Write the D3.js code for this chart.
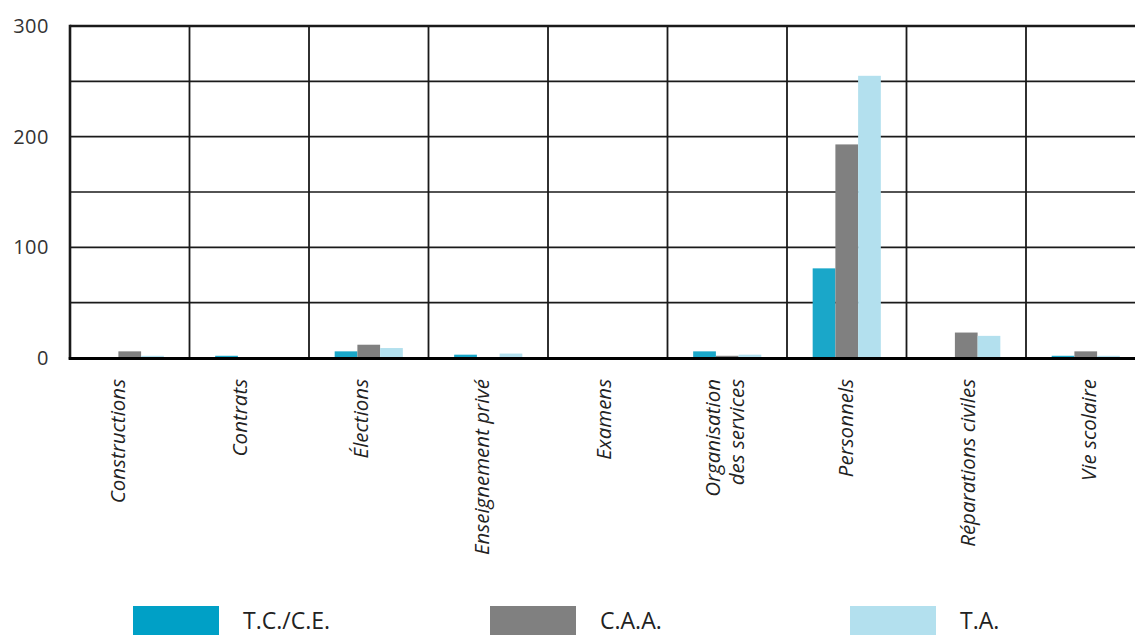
<!DOCTYPE html>
<html>
<head>
<meta charset="utf-8">
<script src="https://cdn.jsdelivr.net/npm/d3@7"></script>
<style>
  html, body { margin: 0; padding: 0; background: #fff; }
  svg { display: block; }
</style>
</head>
<body>
<svg id="chart" width="1135" height="635"></svg>
<script>
// Contentieux par domaine et par juridiction
const categories = ["Constructions", "Contrats", "Élections", "Enseignement privé", "Examens",
  "Organisation des services", "Personnels", "Réparations civiles", "Vie scolaire"];
const categoryLines = [["Constructions"], ["Contrats"], ["Élections"], ["Enseignement privé"], ["Examens"],
  ["Organisation", "des services"], ["Personnels"], ["Réparations civiles"], ["Vie scolaire"]];
const seriesNames = ["T.C./C.E.", "C.A.A.", "T.A."];
const tcce = [0, 2, 6, 3, 0, 6, 81, 0, 2];
const caa  = [6, 0, 12, 0, 0, 2, 193, 23, 6];
const ta   = [2, 0, 9, 4, 0, 3, 255, 20, 2];
const seriesColors = ["#1aa7c9", "#808080", "#b3e0ee"];
const yTicks = [0, 100, 200, 300];
const yGrid = [50, 100, 150, 200, 250];

const values = [tcce, caa, ta];
const svg = d3.select("#chart");

const plotLeft = 70, plotTop = 26, plotBottom = 358;
const step = 119.5;
const plotRight = plotLeft + step * categories.length;

const x0 = d3.scaleBand().domain(categories).range([plotLeft, plotRight]).paddingInner(0).paddingOuter(0);
const x1 = d3.scaleBand().domain(seriesNames).range([0, x0.bandwidth()]).paddingInner(0).paddingOuter(1.13);
const y = d3.scaleLinear().domain([0, 300]).range([plotBottom, plotTop]);
// label anchors sit on a slightly wider spread than the columns
const xl = d3.scalePoint().domain(categories).range([118, 1089]);

// horizontal grid
svg.append("g").selectAll("line").data(yGrid).join("line")
  .attr("x1", plotLeft).attr("x2", plotRight)
  .attr("y1", d => y(d)).attr("y2", d => y(d))
  .attr("stroke", "#1a1a1a").attr("stroke-width", 1.6);

// column separators
svg.append("g").selectAll("line").data(categories.slice(1)).join("line")
  .attr("x1", d => x0(d)).attr("x2", d => x0(d))
  .attr("y1", plotTop).attr("y2", plotBottom)
  .attr("stroke", "#1a1a1a").attr("stroke-width", 1.8);

// bars
const groups = svg.append("g").selectAll("g").data(categories).join("g")
  .attr("transform", d => `translate(${x0(d)},0)`);
groups.selectAll("rect")
  .data((c, i) => seriesNames.map((s, k) => ({ s, k, v: values[k][i] })))
  .join("rect")
  .attr("x", d => x1(d.s))
  .attr("width", x1.bandwidth())
  .attr("y", d => y(d.v))
  .attr("height", d => y(0) - y(d.v))
  .attr("fill", d => seriesColors[d.k]);

// frame: top, left, baseline
svg.append("line").attr("x1", plotLeft).attr("x2", plotRight).attr("y1", y(300)).attr("y2", y(300))
  .attr("stroke", "#1a1a1a").attr("stroke-width", 2.6);
svg.append("line").attr("x1", plotLeft).attr("x2", plotLeft).attr("y1", y(300) - 1.3).attr("y2", plotBottom + 1.5)
  .attr("stroke", "#1a1a1a").attr("stroke-width", 2.6);
svg.append("line").attr("x1", plotLeft - 1.3).attr("x2", plotRight).attr("y1", plotBottom + 0.5).attr("y2", plotBottom + 0.5)
  .attr("stroke", "#000").attr("stroke-width", 3);

// y tick labels
const yAxis = d3.axisLeft(y).tickValues(yTicks).tickSize(0).tickPadding(0);
const ya = svg.append("g").attr("transform", `translate(49,0)`).call(yAxis);
ya.select(".domain").remove();
ya.selectAll("text")
  .attr("font-family", "'Open Sans', sans-serif")
  .attr("font-size", 20)
  .attr("letter-spacing", 0.5)
  .attr("fill", "#333");

// category labels, rotated
const lab = svg.append("g").selectAll("text").data(categories).join("text")
  .attr("transform", d => `translate(${xl(d)},379) rotate(-90)`)
  .attr("text-anchor", "end")
  .attr("font-family", "'Open Sans', sans-serif")
  .attr("font-style", "italic")
  .attr("font-size", 20.5)
  .attr("fill", "#222");
lab.each(function (d, i) {
  const lines = categoryLines[i];
  const n = lines.length;
  d3.select(this).selectAll("tspan").data(lines).join("tspan")
    .attr("x", 0)
    .attr("y", (l, j) => (j - (n - 1) / 2) * 24)
    .attr("dy", "0.35em")
    .text(l => l);
});

// legend
const legendX = [133, 490, 850];
const lg = svg.append("g").selectAll("g").data(seriesNames).join("g")
  .attr("transform", (d, i) => `translate(${legendX[i]},606)`);
lg.append("rect").attr("width", 86).attr("height", 29).attr("fill", (d, i) => i === 0 ? "#00a0c6" : seriesColors[i]);
lg.append("text")
  .attr("transform", "translate(110,14.5) scale(0.96,1)")
  .attr("dy", "0.35em")
  .attr("font-family", "'Open Sans', sans-serif")
  .attr("font-size", 24)
  .attr("fill", "#222")
  .text(d => d);
</script>
</body>
</html>
